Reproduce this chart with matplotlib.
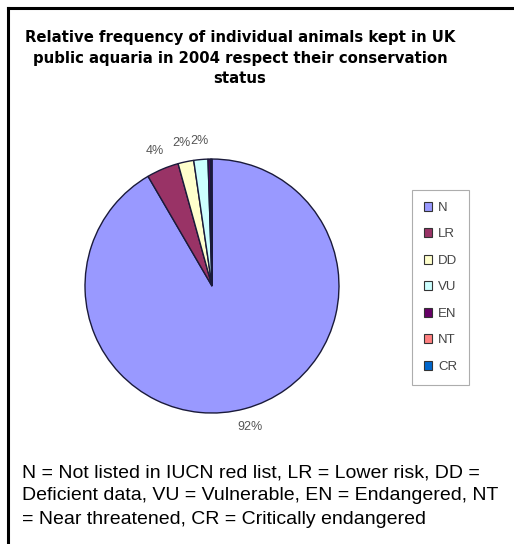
import matplotlib
matplotlib.use("Agg")
import matplotlib.pyplot as plt
from matplotlib.patches import Patch
from matplotlib.lines import Line2D

# Conservation status categories and their share of individual animals (%)
categories = ["N", "LR", "DD", "VU", "EN", "NT", "CR"]
shares = [91.6, 4.1, 2.0, 1.8, 0.3, 0.1, 0.1]
colors = ["#9999FF", "#993366", "#FFFFCC", "#CCFFFF", "#660066", "#FF8080", "#0066CC"]

title = ("Relative frequency of individual animals kept in UK\n"
         "public aquaria in 2004 respect their conservation\nstatus")
note = ("N = Not listed in IUCN red list, LR = Lower risk, DD =\n"
        "Deficient data, VU = Vulnerable, EN = Endangered, NT\n"
        "= Near threatened, CR = Critically endangered")

W, H = 514, 544
fig = plt.figure(figsize=(W / 100, H / 100), dpi=100)
fig.patch.set_facecolor("white")

# frame lines along the top and left
fig.add_artist(Line2D([8 / W, 8 / W], [0, 1 - 8 / H], color="black", lw=2.2,
                      transform=fig.transFigure))
fig.add_artist(Line2D([8 / W, 1], [1 - 8 / H, 1 - 8 / H], color="black", lw=2.2,
                      transform=fig.transFigure))

fig.text(240 / W, 1 - 58 / H, title, ha="center", va="center", fontsize=10.7,
         fontweight="bold", family="DejaVu Sans", linespacing=1.42)

ax = fig.add_axes([0.1036, 0.1824, 0.6177, 0.5836])


def pct_label(p):
    return f"{p:.0f}%" if p >= 1 else ""


wedges, _, autotexts = ax.pie(
    shares, colors=colors, startangle=90, counterclock=False,
    autopct=pct_label, pctdistance=1.15,
    wedgeprops=dict(edgecolor="#1a1a3a", linewidth=1.0),
    textprops=dict(fontsize=9, color="#555555", family="Liberation Sans"),
)
ax.set_xlim(-1.25, 1.25)
ax.set_ylim(-1.25, 1.25)
ax.set_aspect("equal")

handles = [Patch(facecolor=c, edgecolor="#333333", linewidth=0.8, label=l)
           for c, l in zip(colors, categories)]
leg = fig.legend(handles=handles, loc="upper left",
                 bbox_to_anchor=(412 / W, 1 - 190 / H),
                 frameon=True, fancybox=False, edgecolor="#999999",
                 handlelength=0.63, handleheight=0.63, handletextpad=0.45,
                 labelspacing=1.1, borderpad=0.9, borderaxespad=0,
                 prop=dict(family="Liberation Sans", size=9.5))
for t in leg.get_texts():
    t.set_color("#444444")
leg.get_frame().set_linewidth(0.8)

fig.text(22 / W, 1 - 496 / H, note, ha="left", va="center", fontsize=14,
         family="Liberation Sans", linespacing=1.5)

fig.savefig("out.png", dpi=100)
